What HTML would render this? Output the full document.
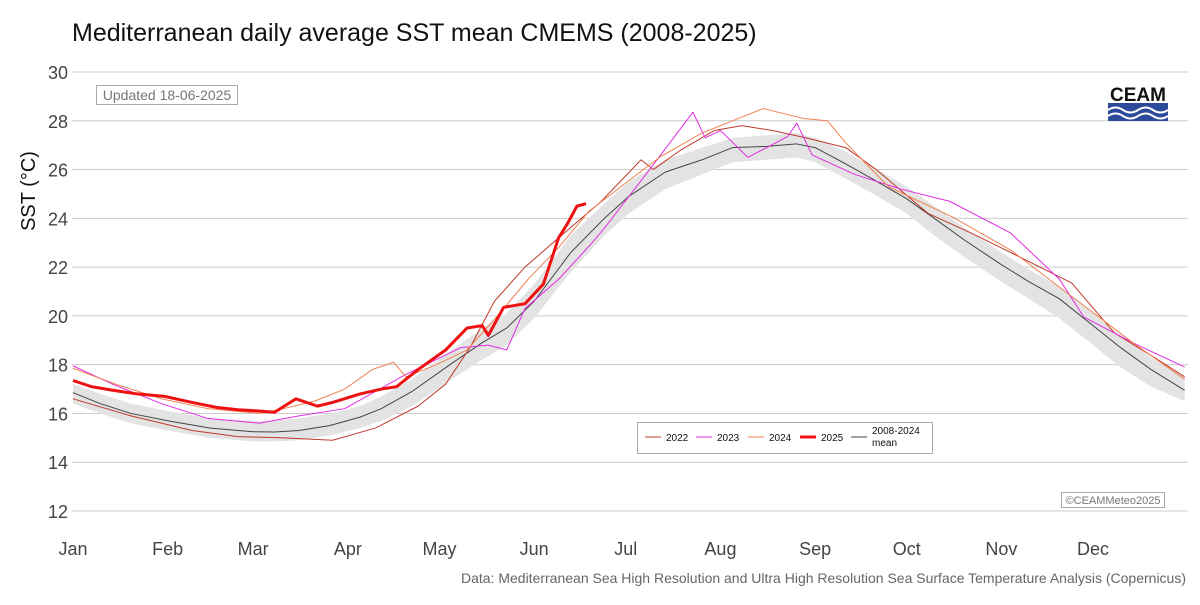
<!DOCTYPE html>
<html><head><meta charset="utf-8"><style>
body{margin:0;background:#fff;font-family:"Liberation Sans",sans-serif}
svg text{font-family:"Liberation Sans",sans-serif}
</style></head><body>
<svg id="chart" width="1200" height="600" xmlns="http://www.w3.org/2000/svg">
<rect width="1200" height="600" fill="#fff"/>
<text x="72" y="41" font-size="25" fill="#111">Mediterranean daily average SST mean CMEMS (2008-2025)</text>
<text transform="translate(35,191) rotate(-90)" text-anchor="middle" font-size="20" fill="#111">SST (°C)</text>
<g id="grid"></g><g id="band"></g><g id="lines"></g><g id="xt"></g>
<g><rect x="96.5" y="85.5" width="141" height="19" fill="#fff" stroke="#aaa"/><text x="167" y="100" text-anchor="middle" font-size="14" fill="#777">Updated 18-06-2025</text></g>
<g><text x="1138" y="101" text-anchor="middle" font-size="19" fill="#111" font-weight="bold">CEAM</text><rect x="1108" y="103" width="60" height="18" fill="#2b4a9a"/><path d="M1108 110 q7.5 -5 15 0 t15 0 t15 0 t15 0 M1108 116 q7.5 -5 15 0 t15 0 t15 0 t15 0" stroke="#fff" stroke-width="2" fill="none"/></g>
<g><rect x="1061.5" y="492.5" width="103" height="15" fill="#fff" stroke="#aaa"/><text x="1113" y="504" text-anchor="middle" font-size="11" fill="#777">©CEAMMeteo2025</text></g>
<text x="1186" y="583" text-anchor="end" font-size="14" fill="#666">Data: Mediterranean Sea High Resolution and Ultra High Resolution Sea Surface Temperature Analysis (Copernicus)</text>
<g id="legend"><rect x="637.5" y="422.5" width="295" height="31" fill="#fff" stroke="#aaa"/></g>
</svg>
<script>
const yTicks=[12,14,16,18,20,22,24,26,28,30];
const months=["Jan","Feb","Mar","Apr","May","Jun","Jul","Aug","Sep","Oct","Nov","Dec"];
const monthDays=[1,32,60,91,121,152,182,213,244,274,305,335];
const meanDays=[1,10,20,32,46,60,67,75,85,95,102,112,125,135,143,152,164,175,183,195,207,217,228,238,244,253,263,274,283,293,305,314,324,335,344,354,365];
const meanVals=[16.85,16.4,16.0,15.7,15.4,15.25,15.24,15.3,15.5,15.85,16.2,16.9,18.05,18.9,19.5,20.6,22.6,24.0,24.9,25.9,26.4,26.9,26.95,27.05,26.9,26.3,25.6,24.8,24.0,23.1,22.1,21.4,20.7,19.6,18.7,17.8,16.95];
const bandLo=[16.4,16.0,15.6,15.3,15.0,14.85,14.85,14.9,15.1,15.4,15.7,16.3,17.4,18.2,18.8,19.9,21.8,23.3,24.2,25.2,25.8,26.3,26.4,26.5,26.3,25.7,25.0,24.2,23.3,22.4,21.4,20.7,19.9,18.8,17.9,17.1,16.5];
const bandHi=[17.2,16.8,16.4,16.1,15.8,15.7,15.7,15.8,16.0,16.3,16.7,17.4,18.6,19.5,20.1,21.3,23.3,24.6,25.5,26.4,26.9,27.3,27.4,27.5,27.3,26.8,26.1,25.3,24.5,23.6,22.6,21.9,21.2,20.1,19.2,18.3,17.5];
const d2022=[1,20,40,55,70,86,100,114,123,131,139,149,160,174,187,191,200,211,220,230,241,254,264,281,295,308,328,342,355,365];
const v2022=[16.6,15.9,15.3,15.05,15.0,14.9,15.4,16.3,17.2,18.7,20.6,22.0,23.2,24.7,26.4,26.0,26.8,27.6,27.8,27.6,27.3,26.9,26.0,24.2,23.4,22.6,21.35,19.3,18.3,17.5];
const d2023=[1,14,30,45,62,75,90,110,128,137,143,149,160,171,175,188,204,208,213,222,235,238,243,257,272,288,308,324,332,348,365];
const v2023=[17.95,17.2,16.4,15.8,15.6,15.9,16.2,17.6,18.7,18.8,18.6,20.3,21.5,23.0,23.6,25.7,28.35,27.3,27.6,26.5,27.35,27.9,26.6,25.8,25.2,24.7,23.4,21.5,19.95,18.9,17.9];
const d2024=[1,15,30,45,62,70,80,90,99,106,110,120,130,140,150,160,170,193,207,227,240,248,254,268,289,308,328,348,365];
const v2024=[17.85,17.2,16.6,16.2,16.0,16.2,16.5,17.0,17.8,18.1,17.5,18.0,18.6,20.0,21.5,22.8,24.3,26.5,27.5,28.5,28.1,28.0,27.1,25.3,24.05,22.7,20.8,18.9,17.4];
const d2025=[1,7,14,22,31,40,48,55,62,67,74,81,86,95,102,107,114,123,130,135,137,142,149,155,160,163,166,169];
const v2025=[17.35,17.1,16.95,16.8,16.7,16.45,16.25,16.15,16.1,16.05,16.6,16.3,16.45,16.8,17.0,17.1,17.8,18.6,19.5,19.6,19.2,20.35,20.5,21.3,23.2,23.8,24.5,24.6];

const X=d=>73+(d-1)*3.054;
const Y=v=>511-(v-12)*24.39;
const NS="http://www.w3.org/2000/svg";
function mk(tag,attrs,parent){const e=document.createElementNS(NS,tag);for(const k in attrs)e.setAttribute(k,attrs[k]);document.getElementById(parent).appendChild(e);return e;}
yTicks.forEach(t=>{
  const l=mk("line",{x1:72,x2:1188,y1:Y(t),y2:Y(t),stroke:"#ccc","stroke-width":1},"grid");
  
  
  const tx=mk("text",{x:68,y:Y(t)+7,"text-anchor":"end","font-size":18,fill:"#444"},"grid");
  tx.textContent=t;
  
  
});
months.forEach((m,i)=>{
  const tx=mk("text",{x:X(monthDays[i]),y:555,"text-anchor":"middle","font-size":18,fill:"#444"},"xt");
  tx.textContent=m;
  
  
});
let bp=meanDays.map((d,i)=>X(d)+","+Y(bandHi[i])).join(" ")+" "+meanDays.slice().reverse().map((d,j)=>X(d)+","+Y(bandLo[meanDays.length-1-j])).join(" ");
const band=mk("polygon",{points:bp,fill:"#e3e3e3"},"band");


function line(ds,vs,col,w,name){
  const p=mk("polyline",{points:ds.map((d,i)=>X(d)+","+Y(vs[i])).join(" "),fill:"none",stroke:col,"stroke-width":w,"stroke-linejoin":"round"},"lines");
  
  
}
line(meanDays,meanVals,"#444",1,"line-mean-2008-2024");
line(d2022,v2022,"#c0392b",1,"line-2022");
line(d2023,v2023,"#e52ce5",1,"line-2023");
line(d2024,v2024,"#f08050",1,"line-2024");
line(d2025,v2025,"#ee1111",3,"line-2025");
const leg=[["2022","#c0392b",1,645],["2023","#e52ce5",1,696],["2024","#f08050",1,748],["2025","#ee1111",3,800],["2008-2024","#444",1,851]];
leg.forEach(([t,c,w,x])=>{
  const l=mk("line",{x1:x,x2:x+16,y1:437,y2:437,stroke:c,"stroke-width":w},"legend");
  
  
  const tx=mk("text",{x:x+21,y:t==="2008-2024"?434:441,"font-size":10,fill:"#111"},"legend");
  tx.textContent=t;
  
  
});
const mt=mk("text",{x:872,y:446,"font-size":10,fill:"#111"},"legend");
mt.textContent="mean";


</script>
</body></html>
